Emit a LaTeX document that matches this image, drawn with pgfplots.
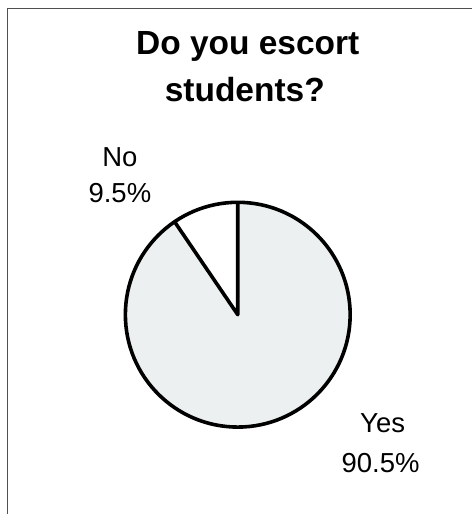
\documentclass[border=0pt]{standalone}
\usepackage{fontspec}
\setmainfont{Liberation Sans}
\usepackage{pgfplots}
\usepackage{pgfplotstable}
\pgfplotsset{compat=1.18}
\definecolor{piegray}{RGB}{236,240,241}
\definecolor{framegray}{RGB}{80,80,80}
\pgfplotstableread{
label value
Yes 90.5
No 9.5
}\piedata
\begin{document}
\begin{tikzpicture}
\pgfplotstablegetelem{0}{value}\of\piedata \let\vyes\pgfplotsretval
\pgfplotstablegetelem{1}{value}\of\piedata \let\vno\pgfplotsretval
\pgfmathsetmacro{\ano}{90+3.6*\vno}
\begin{axis}[scale only axis, width=472pt, height=514pt,
  xmin=0, xmax=472, ymin=0, ymax=514, hide axis, clip=false]
\path (axis cs:0,0) rectangle (axis cs:472,514);
% frame (top and left edges only)
\draw[framegray, line width=1pt] (axis cs:8,0) -- (axis cs:8,505) -- (axis cs:472,505);
% pie
\fill[piegray] (axis cs:238,199) -- ++(\ano:112.5pt) arc[start angle=\ano, end angle=450, radius=112.5pt] -- cycle;
\draw[line width=3.6pt] (axis cs:238,199) circle[radius=112.5pt];
\draw[line width=3.6pt, line join=round] (axis cs:238,199) ++(90:112.5pt) -- (axis cs:238,199) -- ++(\ano:112.5pt);
% title
\node[anchor=base, font=\bfseries\fontsize{33.5}{36}\selectfont] at (axis cs:248,459) {Do you escort};
\node[anchor=base, font=\bfseries\fontsize{33.5}{36}\selectfont] at (axis cs:245,412) {students?};
% labels
\node[anchor=base, font=\fontsize{27.5}{30}\selectfont] at (axis cs:120,347) {No};
\node[anchor=base, font=\fontsize{27.5}{30}\selectfont] at (axis cs:120,311) {\pgfmathprintnumber[fixed, precision=1, fixed zerofill, assume math mode=true]{\vno}\%};
\node[anchor=base, font=\fontsize{27.5}{30}\selectfont] at (axis cs:383,81) {Yes};
\node[anchor=base, font=\fontsize{27.5}{30}\selectfont] at (axis cs:381,41) {\pgfmathprintnumber[fixed, precision=1, fixed zerofill, assume math mode=true]{\vyes}\%};
\end{axis}
\end{tikzpicture}
\end{document}
